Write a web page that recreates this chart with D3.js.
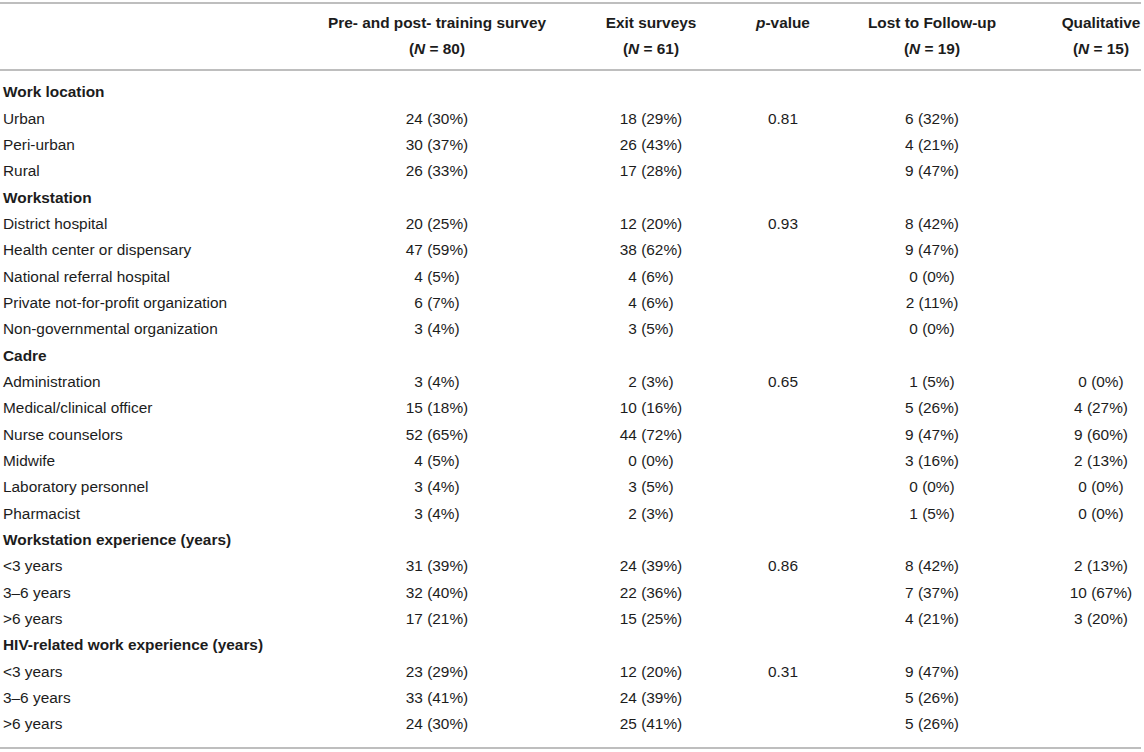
<!DOCTYPE html>
<html>
<head>
<meta charset="utf-8">
<script src="https://cdn.jsdelivr.net/npm/d3@7/dist/d3.min.js"></script>
<style>
  html, body { margin: 0; padding: 0; background: #fff; }
  svg { display: block; font-family: "Liberation Sans", Arial, Helvetica, sans-serif; }
</style>
</head>
<body>
<svg id="chart" width="1144" height="752"></svg>
<script>
// ---- Data ----
const rowLabels = [
  "Work location", "Urban", "Peri-urban", "Rural",
  "Workstation", "District hospital", "Health center or dispensary", "National referral hospital",
  "Private not-for-profit organization", "Non-governmental organization",
  "Cadre", "Administration", "Medical/clinical officer", "Nurse counselors", "Midwife",
  "Laboratory personnel", "Pharmacist",
  "Workstation experience (years)", "<3 years", "3–6 years", ">6 years",
  "HIV-related work experience (years)", "<3 years", "3–6 years", ">6 years"
];
const isGroup = [1,0,0,0, 1,0,0,0,0,0, 1,0,0,0,0,0,0, 1,0,0,0, 1,0,0,0];

const preCount  = [null,24,30,26, null,20,47,4,6,3, null,3,15,52,4,3,3, null,31,32,17, null,23,33,24];
const prePct    = [null,30,37,33, null,25,59,5,7,4, null,4,18,65,5,4,4, null,39,40,21, null,29,41,30];
const exitCount = [null,18,26,17, null,12,38,4,4,3, null,2,10,44,0,3,2, null,24,22,15, null,12,24,25];
const exitPct   = [null,29,43,28, null,20,62,6,6,5, null,3,16,72,0,5,3, null,39,36,25, null,20,39,41];
const pValues   = [null,"0.81",null,null, null,"0.93",null,null,null,null, null,"0.65",null,null,null,null,null, null,"0.86",null,null, null,"0.31",null,null];
const lostCount = [null,6,4,9, null,8,9,0,2,0, null,1,5,9,3,0,1, null,8,7,4, null,9,5,5];
const lostPct   = [null,32,21,47, null,42,47,0,11,0, null,5,26,47,16,0,5, null,42,37,21, null,47,26,26];
const qualCount = [null,null,null,null, null,null,null,null,null,null, null,0,4,9,2,0,0, null,2,10,3, null,null,null,null];
const qualPct   = [null,null,null,null, null,null,null,null,null,null, null,0,27,60,13,0,0, null,13,67,20, null,null,null,null];

const colKeys   = ["pre", "exit", "p", "lost", "qual"];
const colTitles = ["Pre- and post- training survey", "Exit surveys", "p-value", "Lost to Follow-up", "Qualitative"];
const colN      = [80, 61, null, 19, 15];

// ---- Layout ----
const tableLeft = 0, tableRight = 1141;
const labelX = 3;
const fontSize = 15.4;
const textColor = "#1c1c1c";
const ruleColor = "#a9a9a9";

const svg = d3.select("#chart");

const x = d3.scaleOrdinal().domain(colKeys).range([437, 651, 783, 932, 1101]);
const y = d3.scalePoint().domain(d3.range(rowLabels.length)).range([92, 724]);

// rules
const rules = [3, 70, 748];
svg.selectAll("line.rule").data(rules).join("line")
  .attr("class", "rule")
  .attr("x1", tableLeft).attr("x2", tableRight)
  .attr("y1", d => d).attr("y2", d => d)
  .attr("stroke", ruleColor).attr("stroke-width", 1.5);

// header
const head = svg.append("g").attr("font-weight", "bold").attr("font-size", fontSize).attr("fill", textColor);
colKeys.forEach((k, i) => {
  const t = head.append("text").attr("x", x(k)).attr("y", 23).attr("dy", "0.35em").attr("text-anchor", "middle");
  if (k === "p") {
    t.append("tspan").attr("font-style", "italic").text("p");
    t.append("tspan").text("-value");
  } else {
    t.text(colTitles[i]);
  }
  if (colN[i] != null) {
    const t2 = head.append("text").attr("x", x(k)).attr("y", 49).attr("dy", "0.35em").attr("text-anchor", "middle");
    t2.append("tspan").text("(");
    t2.append("tspan").attr("font-style", "italic").text("N");
    t2.append("tspan").text(" = " + colN[i] + ")");
  }
});

// body
const fmt = (c, p) => c == null ? "" : `${c} (${p}%)`;
const rows = rowLabels.map((lab, i) => ({
  i, lab, group: isGroup[i],
  pre: fmt(preCount[i], prePct[i]),
  exit: fmt(exitCount[i], exitPct[i]),
  p: pValues[i] || "",
  lost: fmt(lostCount[i], lostPct[i]),
  qual: fmt(qualCount[i], qualPct[i])
}));

const body = svg.append("g").attr("font-size", fontSize).attr("fill", textColor);
const rg = body.selectAll("g.row").data(rows).join("g").attr("class", "row")
  .attr("transform", d => `translate(0,${y(d.i)})`);

rg.append("text")
  .attr("x", labelX).attr("dy", "0.35em")
  .attr("font-weight", d => d.group ? "bold" : "normal")
  .text(d => d.lab);

colKeys.forEach(k => {
  rg.filter(d => d[k] !== "").append("text")
    .attr("x", x(k)).attr("dy", "0.35em").attr("text-anchor", "middle")
    .text(d => d[k]);
});
</script>
</body>
</html>
